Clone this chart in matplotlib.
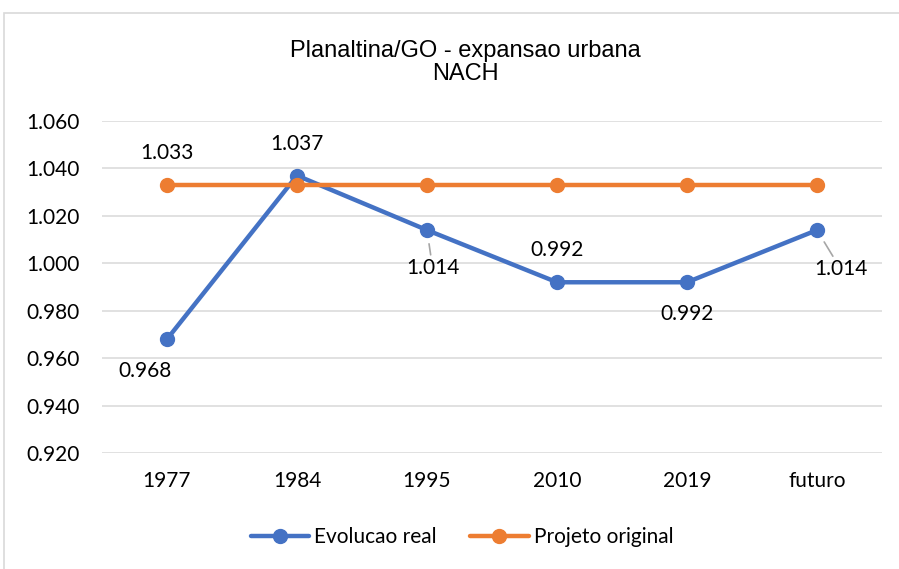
import matplotlib.pyplot as plt
from matplotlib.patches import Rectangle

plt.rcParams['font.family'] = ['Lato', 'DejaVu Sans']

# dados
anos = ['1977', '1984', '1995', '2010', '2019', 'futuro']
evolucao_real = [0.968, 1.037, 1.014, 0.992, 0.992, 1.014]
projeto_original = [1.033, 1.033, 1.033, 1.033, 1.033, 1.033]
yticks = [0.920, 0.940, 0.960, 0.980, 1.000, 1.020, 1.040, 1.060]

azul = '#4472c4'
laranja = '#ed7d31'
fs = 15

fig = plt.figure(figsize=(8.99, 5.69), dpi=100)
ax = fig.add_axes([102 / 899, 1 - 453 / 569, 780 / 899, (453 - 121) / 569])

# moldura do gráfico
fig.patches.append(Rectangle((4 / 899, -0.1), 1.2, 1 - 13 / 569 + 0.1, transform=fig.transFigure,
                             fill=False, edgecolor='#d9d9d9', linewidth=1.2))

x = list(range(len(anos)))
ax.plot(x, evolucao_real, color=azul, linewidth=3.2, marker='o', markersize=10,
        label='Evolucao real', zorder=3, solid_capstyle='round')
ax.plot(x, projeto_original, color=laranja, linewidth=3.2, marker='o', markersize=10,
        label='Projeto original', zorder=4, solid_capstyle='round')

ax.set_xlim(-0.5, len(anos) - 0.5)
ax.set_ylim(yticks[0], yticks[-1])
ax.set_yticks(yticks)
ax.set_yticklabels([f'{v:.3f}' for v in yticks])
ax.set_xticks(x)
ax.set_xticklabels(anos)
ax.tick_params(length=0, labelsize=fs, colors='#000000')
ax.tick_params(axis='y', pad=16)
ax.tick_params(axis='x', pad=13)
ax.grid(axis='y', color='#d9d9d9', linewidth=1.1)
ax.set_axisbelow(True)
for s in ax.spines.values():
    s.set_visible(False)

# rótulos de dados (deslocamento em pontos)
def rotulo(i, v, dx, dy, leader=False):
    kw = {}
    if leader:
        kw['arrowprops'] = dict(arrowstyle='-', color='#a6a6a6', lw=1.2, shrinkA=0, shrinkB=10)
    ax.annotate(f'{v:.3f}', (x[i], v), xytext=(dx, dy), textcoords='offset points',
                ha='center', va='center', fontsize=fs, **kw)

rotulo(0, projeto_original[0], 0, 23)
rotulo(0, evolucao_real[0], -16, -23)
rotulo(1, evolucao_real[1], 0, 23)
rotulo(2, evolucao_real[2], 4, -27, leader=True)
rotulo(3, evolucao_real[3], 0, 23)
rotulo(4, evolucao_real[4], 0, -23)
rotulo(5, evolucao_real[5], 17, -28, leader=True)

fig.text(465 / 899, 1 - 57 / 569, 'Planaltina/GO - expansao urbana', ha='center', va='baseline',
         fontsize=17, fontname='Liberation Sans')
fig.text(465 / 899, 1 - 80 / 569, 'NACH', ha='center', va='baseline',
         fontsize=17, fontname='Liberation Sans')

fig.legend(loc='center', bbox_to_anchor=(462 / 899, 1 - 537 / 569), ncol=2, frameon=False,
           fontsize=fs, handlelength=2.8, handletextpad=0.25, columnspacing=1.6)

fig.savefig('out.png', dpi=100)
